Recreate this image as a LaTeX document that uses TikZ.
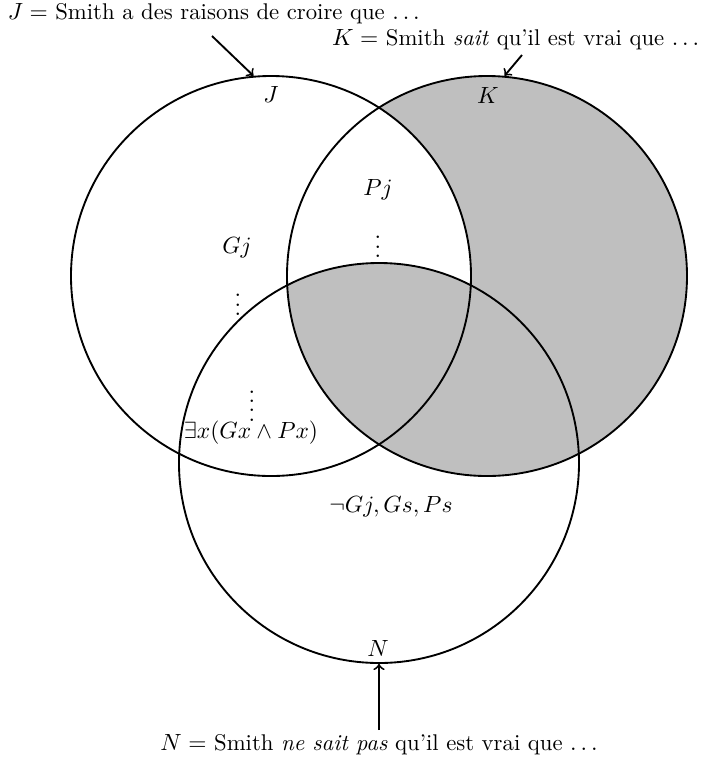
\documentclass[tikz,border=0pt]{standalone}
\newcommand{\myvfourdots}{\vbox{\baselineskip4pt\lineskiplimit0pt\kern6pt\hbox{.}\hbox{.}\hbox{.}\hbox{.}}}
\begin{document}
\begin{tikzpicture}[x=0.015cm,y=-0.015cm,
  circ/.style={circle,draw,thick,minimum size=6cm,inner sep=0pt},
  lbl/.style={inner sep=1pt},
  captxt/.style={inner sep=1pt,font=\fontsize{9.7pt}{12pt}\selectfont},
  arr/.style={->,thick}]
\useasboundingbox (0,0) rectangle (704,762);
\fill[lightgray] (487,276) circle[radius=3cm];
\begin{scope}
\clip (487,276) circle[radius=3cm];
\clip (271,276) circle[radius=3cm];
\fill[white, even odd rule] (271,276) circle[radius=3cm] (379,463) circle[radius=3cm];
\end{scope}
\node[circ] (J) at (271,276) {};
\node[circ] (K) at (487,276) {};
\node[circ] (N) at (379,463) {};
\node[lbl] (jl) at (271,94) {$J$};
\node[lbl] (kl) at (488,95) {$K$};
\node[lbl] (nl) at (378,648) {$N$};
\node[lbl] (pj) at (378,190) {$Pj$};
\node[lbl] (d1) at (378,240) {$\vdots$};
\node[lbl] (gj) at (237,248) {$Gj$};
\node[lbl] (d2) at (238,298) {$\vdots$};
\node[lbl] (d3) at (252,399) {$\myvfourdots$};
\node[lbl] (ex) at (251,433) {$\exists x(Gx\wedge Px)$};
\node[lbl] (ng) at (391,507) {$\neg Gj, Gs, Ps$};
\node[captxt,anchor=west] (jt) at (5,14) {$J =$ Smith a des raisons de croire que $\ldots$};
\node[captxt,anchor=east] (kt) at (702,40) {$K =$ Smith \emph{sait} qu'il est vrai que $\ldots$};
\node[captxt] (nt) at (379,745) {$N =$ Smith \emph{ne sait pas} qu'il est vrai que $\ldots$};
\coordinate (ja) at (212,36);
\coordinate (ka) at (522,55);
\coordinate (na) at (379,730);
\draw[arr] (ja) -- (J.95);
\draw[arr] (ka) -- (K.85);
\draw[arr] (na) -- (N.south);
\end{tikzpicture}
\end{document}
